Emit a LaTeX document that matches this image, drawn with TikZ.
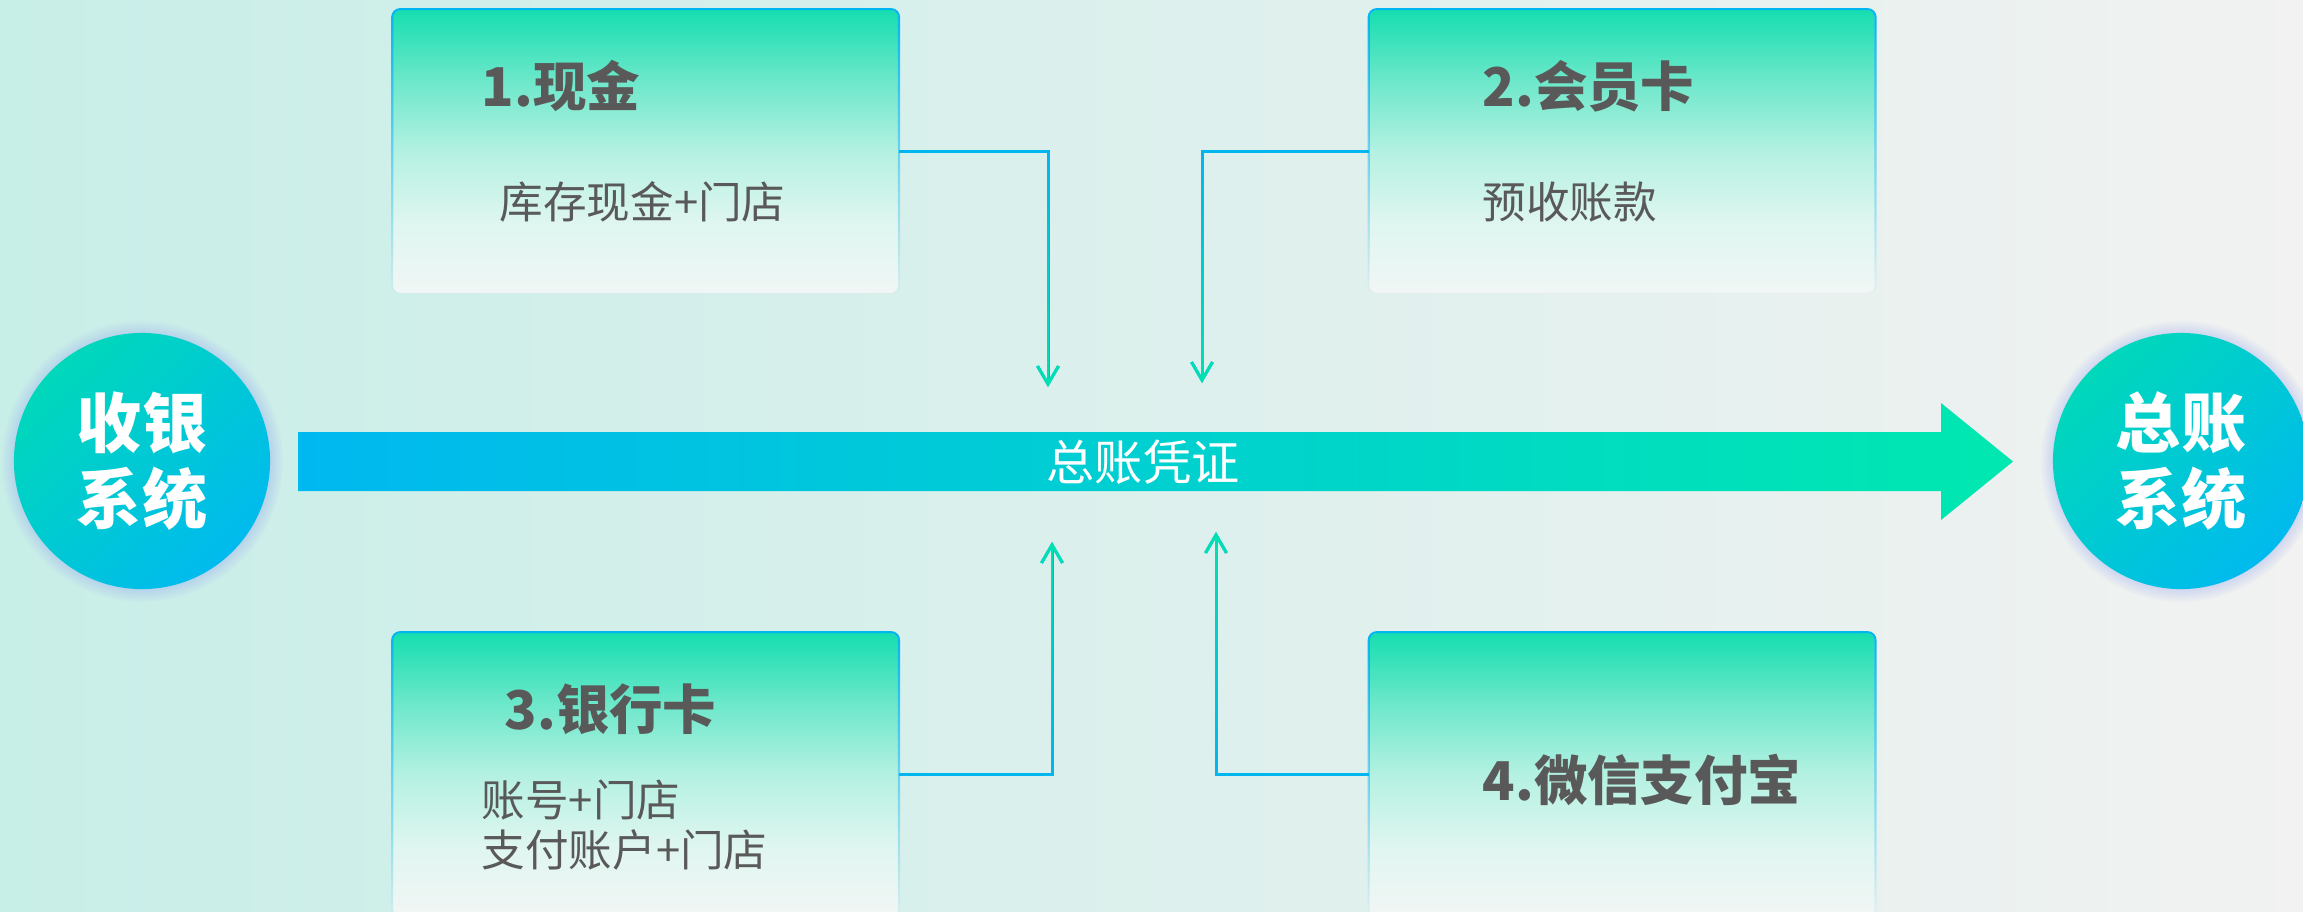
\documentclass[tikz,border=0pt]{standalone}
\usepackage{fontspec}
\setmainfont{Noto Sans CJK SC}
\usetikzlibrary{positioning}
\usetikzlibrary{arrows.meta}
\usetikzlibrary{fadings}
\usetikzlibrary{shadows}
\definecolor{inkgrey}{HTML}{595959}
\definecolor{lineblue}{HTML}{00B6F0}
\definecolor{linegreen}{HTML}{00E2B0}
\definecolor{flowblue}{HTML}{00B8F0}
\definecolor{flowgreen}{HTML}{00E8B0}
\definecolor{bgmint}{HTML}{C8EEE8}
\definecolor{bggrey}{HTML}{F1F2F1}
\definecolor{boxtop}{HTML}{16DEB0}
\definecolor{boxup}{HTML}{70E8CB}
\definecolor{boxmid}{HTML}{B4F1E2}
\definecolor{boxlow}{HTML}{E0F6F0}
\definecolor{boxbot}{HTML}{F1F6F5}
\definecolor{ballgreen}{HTML}{00D8BA}
\definecolor{ballblue}{HTML}{00BAEE}
\definecolor{glowc}{HTML}{8C9CF0}
\pgfdeclareverticalshading{boxfade}{100bp}{color(0bp)=(boxbot); color(25bp)=(boxbot); color(37bp)=(boxlow); color(50bp)=(boxmid); color(62bp)=(boxup); color(75bp)=(boxtop); color(100bp)=(boxtop)}
\tikzfading[name=greenlow, top color=transparent!100, bottom color=transparent!0]
\tikzfading[name=greenhigh, top color=transparent!0, bottom color=transparent!100]
\tikzfading[name=edgefade, top color=transparent!0, middle color=transparent!20, bottom color=transparent!100]
\tikzset{
    bg/.style = {left color=bgmint, right color=bggrey},
    paybox/.style = {rectangle, rounded corners=2.3pt, shade, shading=boxfade, minimum width=5.05cm, minimum height=2.83cm, inner sep=0pt},
    boxedge/.style = {draw=lineblue, line width=0.6pt, rounded corners=2.3pt, path fading=edgefade},
    syscircle/.style = {circle, minimum size=2.56cm, inner sep=0pt, top color=ballgreen, bottom color=ballblue, shading angle=45, circular glow={fill=glowc, opacity=0.5, shadow scale=1.1}, text=white, align=center, font=\bfseries\fontsize{18.5}{21.6}\selectfont},
    boxtitle/.style = {anchor=west, inner sep=0pt, text=inkgrey, font=\bfseries\fontsize{15.2}{18}\selectfont},
    boxbody/.style = {anchor=west, inner sep=0pt, text=inkgrey, align=left, font=\fontsize{12.4}{14.2}\selectfont},
    flowtext/.style = {inner sep=0pt, text=white, font=\fontsize{13.7}{16}\selectfont},
    feed/.style = {-{Straight Barb[length=1.8mm, width=2.1mm]}, line width=0.85pt, draw=lineblue}, % blue base
    feedg/.style = {-{Straight Barb[length=1.8mm, width=2.1mm]}, line width=0.85pt, draw=linegreen} % green overlay
}

\begin{document}
\begin{tikzpicture}[x=0.01cm, y=-0.01cm]
\useasboundingbox (0,0) rectangle (2303,911);
\clip (0,0) rectangle (2303,911);
\shade[bg] (0,0) rectangle (2303,911);
% systems
\node[syscircle] at (142,461) (pos) {收银\\系统};
\node[syscircle] at (2181,461) (gl) {总账\\系统};
% voucher flow
\shade[left color=flowblue, right color=flowgreen] (298,432) -- (1941,432) -- (1941,403) -- (2013,461.5) -- (1941,520) -- (1941,491) -- (298,491) -- cycle;
\node[flowtext] at (1143,462) (voucher) {总账凭证};
% payment boxes
\node[paybox] at (645.5,151.5) (cash) {};
\node[paybox] at (1622,151.5) (member) {};
\node[paybox] at (645.5,774.5) (bank) {};
\node[paybox] at (1622,774.5) (wallet) {};
\foreach \b in {cash,member,bank,wallet}
  \draw[boxedge] (\b.south west) rectangle (\b.north east);
\node[boxtitle] at (481,86) (cashttl) {1.现金};
\node[boxbody] at (499,202) (cashtxt) {库存现金+门店};
\node[boxtitle] at (1482,86) (memberttl) {2.会员卡};
\node[boxbody] at (1482,202) (membertxt) {预收账款};
\node[boxtitle] at (504,709) (bankttl) {3.银行卡};
\node[boxbody] at (481,825) (banktxt) {账号+门店\\支付账户+门店};
\node[boxtitle] at (1482,780) (walletttl) {4.微信支付宝};
% feeds into the voucher
\coordinate (in1) at (1048,387);
\coordinate (in2) at (1202,383);
\coordinate (in3) at (1052,542);
\coordinate (in4) at (1216,532);
\draw[feed] (cash.east) -| (in1);
\draw[feedg, path fading=greenlow] (cash.east) -| (in1);
\draw[feed] (member.west) -| (in2);
\draw[feedg, path fading=greenlow] (member.west) -| (in2);
\draw[feed] (bank.east) -| (in3);
\draw[feedg, path fading=greenhigh] (bank.east) -| (in3);
\draw[feed] (wallet.west) -| (in4);
\draw[feedg, path fading=greenhigh] (wallet.west) -| (in4);
\end{tikzpicture}
\end{document}
